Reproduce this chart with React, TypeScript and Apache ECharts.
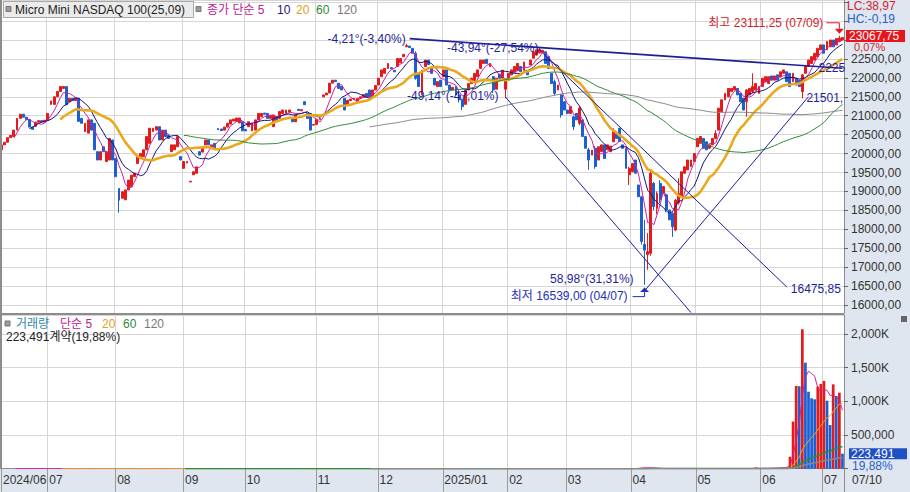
import React, { useEffect, useRef } from 'react';
import * as echarts from 'echarts';

// ---------- calendar (CME trading days) ----------
const startDate = '2024-06-07';
const endDate = '2025-07-10';
const holidays = ['2024-06-19', '2024-07-04', '2024-09-02', '2024-11-28', '2024-12-25', '2025-01-01', '2025-01-20', '2025-02-17', '2025-04-18', '2025-05-26', '2025-06-19', '2025-07-04'];

// ---------- daily candles: [open, close, low?, high?] (low/high omitted = no wick) ----------
const candles: number[][] = [
  // 2024-06
  [20100, 20230], [20230, 20300], [20300, 20420], [20420, 20480], [20450, 20620], [20620, 20930], [20930, 21040], [21040, 20960], [20960, 20900], [20900, 20700], [20700, 20640], [20720, 20830], [20830, 20870], [20870, 20830], [20830, 20880],
  // 2024-07
  [20880, 21060], [21300, 21390], [21300, 21500], [21500, 21640], [21640, 21770], [21720, 21770], [21770, 21290], [21370, 21460], [21460, 21400], [21400, 21470], [21460, 20850], [20930, 20800], [20580, 20800], [20540, 20890], [20890, 20620], [20800, 20100], [20050, 19830], [19830, 20050], [20180, 20050], [19790, 20050], [19830, 20400], [20360, 19830],
  // 2024-08
  [19870, 19390], [19080, 18770, 18440, 19080], [18820, 18990], [18780, 19040], [19040, 19300], [19130, 19430], [19390, 19480], [19740, 19920], [19880, 20000], [19920, 20100], [20100, 20450], [20270, 20670], [20580, 20670], [20620, 20710], [20710, 20360], [20360, 20620], [20620, 20450], [20490, 20400], [20050, 20230], [20100, 20230], [20180, 20450], [19920, 19830],
  // 2024-09
  [19610, 19790], [19750, 19790], [19250, 19270], [19440, 19520], [19480, 19650], [20050, 19960], [20040, 20140], [20230, 20360], [20360, 20230], [20140, 20230], [20270, 20140], [20660, 20630], [20650, 20610], [20620, 20700], [20700, 20800], [20780, 20890], [20860, 20910], [20850, 20940], [20810, 20940], [20840, 20600],
  // 2024-10
  [20640, 20600], [20710, 20840], [20600, 20800], [20620, 20890], [20890, 21060], [20980, 21060], [21070, 21040], [21060, 20930], [20930, 21000], [20710, 21020], [20980, 20840], [20930, 21110], [21060, 21150], [21070, 21150], [21100, 21150], [20930, 20840], [20840, 21020], [21170, 21140], [21130, 21160], [21370, 21290], [21060, 20930], [21060, 20620], [20750, 20770],
  // 2024-11
  [20770, 20900], [20900, 20930], [21500, 21550], [21550, 21600], [21600, 21860], [21860, 21940], [21940, 21900], [21860, 21720], [21770, 21680], [21460, 21150], [21280, 21410], [21400, 21440], [21420, 21460], [21370, 21460], [21460, 21500], [21500, 21560], [21590, 21500], [21680, 21500], [21500, 21680], [21680, 21800],
  // 2024-12
  [21810, 21990], [22030, 22210], [22120, 22250], [22250, 22380], [22270, 22240], [22200, 22160], [22300, 22510], [22400, 22510], [22560, 22620], [22820, 22850, 22820, 22900], [22840, 22800], [22780, 22650], [22650, 21990, 21950, 22700], [22120, 21770], [21550, 22200], [22300, 22470], [22470, 22350], [22250, 22120], [21990, 21810], [21770, 21900], [21940, 21770],
  // 2025-01
  [22030, 22210], [22210, 21810], [21810, 21680], [21680, 21750], [21770, 21550], [21550, 21420, 21350, 21600], [21420, 21240, 21150, 21450], [21300, 21680], [21680, 21850], [21850, 21990], [21930, 22120], [22030, 22210], [22250, 22470], [22380, 22470], [22490, 22380], [22300, 22380], [22030, 21680, 21600, 22050], [21700, 21990], [22100, 21990], [21990, 22200], [21700, 21940, 21460, 21980],
  // 2025-02
  [21940, 22120], [22080, 22210], [22150, 22300], [22200, 22380], [22300, 22160], [22200, 22420], [22200, 22080], [22340, 22470], [22520, 22690], [22600, 22740], [22660, 22750, 22640, 22790], [22680, 22730], [22690, 22380], [22560, 22250], [22120, 21850], [21900, 21590, 21550, 21950], [21680, 21810], [21550, 21020, 20950, 21580], [21370, 21150],
  // 2025-03
  [21150, 21060], [21060, 21240], [20970, 20710, 20620, 21000], [21060, 20890], [20800, 21200, 20750, 21250], [20890, 20450], [20450, 20140], [20100, 19830, 19570, 20150], [19960, 20090], [20140, 19660, 19600, 20200], [19830, 20180], [20050, 20230], [20230, 19870], [20100, 20230], [20050, 20200], [20315, 20580, 20300, 20670], [20540, 20400], [20670, 20320], [20230, 20140], [20140, 19610], [19440, 19610, 19170, 19650],
  // 2025-04
  [19520, 19740], [19830, 19480], [19170, 18860], [18860, 17680, 17600, 18880], [17600, 17450, 16539, 18250], [17330, 17410, 16930, 17900], [17366, 19480, 17300, 19530], [19215, 18600, 18500, 19250], [18550, 18950, 18400, 19000], [19210, 18780, 18700, 19300], [18950, 19130], [18910, 18510, 18450, 18950], [18510, 18250], [18420, 18070, 17800, 18450], [17980, 18770, 17950, 18800], [18700, 18950, 18650, 19350], [18860, 19520], [19480, 19650], [19570, 19830], [19660, 19830], [19790, 20000],
  // 2025-05
  [20180, 20400], [20270, 20450], [20400, 20140], [20310, 20100], [20140, 20230], [20230, 20400], [20400, 20530, 20380, 20620], [20620, 21200], [21110, 21420], [21420, 21590], [21500, 21720], [21640, 21720], [21680, 21770], [21720, 21550], [21590, 21370], [21460, 21150], [21370, 21680, 20970, 21700], [21550, 21720], [21640, 21770, 21600, 22120], [21680, 21850], [21590, 21770],
  // 2025-06
  [21770, 21990], [21900, 22030], [21850, 22030], [22050, 21940], [21940, 22050], [22080, 21940], [22030, 22160], [22120, 22210], [22160, 21900], [22120, 21770], [21900, 22120], [21990, 21810], [21940, 21770], [21640, 22080, 21460, 22100], [22120, 22300], [22300, 22470], [22380, 22560], [22470, 22650], [22560, 22780], [22740, 22870],
  // 2025-07
  [22870, 22650], [22740, 22960], [22820, 23000], [23000, 22820], [22870, 23040], [22960, 23052, 22940, 23111.25], [23000, 23067.75],
];

// ---------- volume (contracts); zero before the first listed day ----------
const volumeFrom = 204;
const volumeRecent = [
  0, 8000, 12000, 15000, 18000, 12000, 10000, 8000,
  0, 0, 0, 0, 0, 0, 0, 0, 0, 0, 0, 0, 0, 0, 0, 0, 0, 0, 0, 0, 0, 0, 0, 0, 0, 0, 0, 0, 0, 0, 0,
  12000, 18000, 0, 0, 6000, 9000, 12000, 10000, 12000, 15000, 18000, 26000,
  178000, 700000, 1228000, 1225000, 2070000, 1574000, 1143000, 1045000, 1030000, 1218000, 1260000,
  1302000, 1010000, 649000, 1253000, 1080000, 1129000, 223491,
];

const maPeriods = [5, 10, 20, 60, 120];
const volMaPeriods = [5, 20, 60, 120];

// trend lines in data space: [categoryIndex, price]
const trendFrom = [[132, 23036], [174, 22737], [163, 21495], [208, 16374]];
const trendTo = [[272, 22253], [254, 16475.85], [223, 15800], [261, 21501]];
const trendStartText = ['-4,21°(-3,40%)', '-43,94°(-27,54%)', '-49,14°(-47,01%)', '58,98°(31,31%)'];
const trendEndText = ['2225', '16475,85', '', '21501,'];

const highPoint = [271, 23111.25];
const highText = '최고 23111,25 (07/09)';
const lowPoint = [208, 16539];
const lowText = '최저 16539,00 (04/07)';
const lastPrice = 23067.75;
const lastPriceText = '23067,75';
const lastChangeText = '0,07%';
const lastVolume = 223491;
const lastVolumeText = '223,491';
const volShareText = '19,88%';
const volInfoText = '223,491계약(19,88%)';
const lcText = 'LC:38,97';
const hcText = 'HC:-0,19';
const titleText = 'Micro Mini NASDAQ 100(25,09)';
const lastDateText = '07/10';

// ---------- styling ----------
const FONT = '"Liberation Sans", "Noto Sans CJK KR", Arial, sans-serif';
const RED = '#e31b1b';
const BLUE = '#1b5fd1';
const GRIDC = '#d6d6d6';
const TREND = '#1e1e9b';
const MA_COLORS = ['#d21ea4', '#14147a', '#eaa91d', '#2d8c3a', '#8a8a8a'];
const MA_WIDTHS = [1, 1, 2.6, 1, 1];
const VMA_COLORS = ['#d21ea4', '#eaa91d', '#2d8c3a', '#8a8a8a'];
const VMA_WIDTHS = [1, 1, 1.5, 1.5];
const PRICE_MIN = 15789.2;
const PRICE_MAX = 24056.5;
const VOL_MAX = 2282450;

function buildDates(): string[] {
  const out: string[] = [];
  const hol = new Set(holidays);
  const d = new Date(startDate + 'T00:00:00Z');
  const end = new Date(endDate + 'T00:00:00Z');
  while (d <= end) {
    const day = d.getUTCDay();
    const s = d.toISOString().slice(0, 10);
    if (day !== 0 && day !== 6 && !hol.has(s)) out.push(s);
    d.setUTCDate(d.getUTCDate() + 1);
  }
  return out;
}

function sma(arr: number[], n: number): (number | string)[] {
  return arr.map((_, i) => {
    if (i < n - 1) return '-';
    let s = 0;
    for (let k = i - n + 1; k <= i; k++) s += arr[k];
    return +(s / n).toFixed(2);
  });
}

export default function App() {
  const ref = useRef<HTMLDivElement>(null);

  useEffect(() => {
    const el = ref.current;
    if (!el) return;
    const chart = echarts.init(el, undefined, { renderer: 'svg' });

    const dates = buildDates().slice(0, candles.length);
    const isMonthStart = (i: number) => i === 0 || (dates[i] && dates[i - 1] && dates[i].slice(0, 7) !== dates[i - 1].slice(0, 7));
    const ohlc = candles.map(([o, c, l, h]) => [o, c, l ?? Math.min(o, c), h ?? Math.max(o, c)]);
    const closes = candles.map((c) => c[1]);
    const volume = dates.map((_, i) => (i >= volumeFrom ? volumeRecent[i - volumeFrom] ?? 0 : 0));
    const volData = volume.map((v, i) => ({ value: v, itemStyle: { color: i > 0 && v > volume[i - 1] ? RED : BLUE } }));

    const option: any = {
      animation: false,
      backgroundColor: 'transparent',
      textStyle: { fontFamily: FONT },
      grid: [
        { left: 0, right: 66, top: 0, height: 313, show: true, backgroundColor: '#ffffff', borderWidth: 0 },
        { left: 0, right: 66, top: 315, height: 153.7, show: true, backgroundColor: '#ffffff', borderWidth: 0 },
      ],
      xAxis: [
        {
          type: 'category', gridIndex: 0, data: dates,
          axisLine: { show: false }, axisTick: { show: false }, axisLabel: { show: false },
          splitLine: { show: true, interval: (i: number) => isMonthStart(i), lineStyle: { color: GRIDC } },
        },
        {
          type: 'category', gridIndex: 1, data: dates,
          axisLine: { show: true, lineStyle: { color: '#8c8c8c' } },
          axisTick: { show: true, interval: (i: number) => isMonthStart(i), length: 23, lineStyle: { color: '#9a9a9a' } },
          axisLabel: {
            show: true, interval: (i: number) => isMonthStart(i), align: 'left', margin: 5, color: '#333', fontSize: 12, fontFamily: FONT,
            formatter: (v: string, i: number) => { const [y, m] = v.split('-'); return i === 0 || m === '01' ? `${y}/${m}` : m; },
          },
          splitLine: { show: true, interval: (i: number) => isMonthStart(i), lineStyle: { color: GRIDC } },
        },
      ],
      yAxis: [
        {
          type: 'value', gridIndex: 0, position: 'right', min: PRICE_MIN, max: PRICE_MAX, splitNumber: 16,
          axisLine: { show: true, lineStyle: { color: '#8c8c8c' } },
          axisTick: { show: true, length: 4, lineStyle: { color: '#666' } },
          axisLabel: {
            color: '#333', fontSize: 12, margin: 7, fontFamily: FONT, showMinLabel: false, showMaxLabel: false,
            formatter: (v: number) => (v > 22999 ? '' : v.toFixed(2).replace('.', ',')),
          },
          splitLine: { show: true, lineStyle: { color: GRIDC } },
        },
        {
          type: 'value', gridIndex: 1, position: 'right', min: 0, max: VOL_MAX, splitNumber: 5,
          axisLine: { show: true, lineStyle: { color: '#8c8c8c' } },
          axisTick: { show: true, length: 4, lineStyle: { color: '#666' } },
          axisLabel: {
            color: '#333', fontSize: 12, margin: 7, fontFamily: FONT, showMaxLabel: false,
            formatter: (v: number) => (v <= 0 || v > 2100000 ? '' : v >= 1000000 ? (v / 1000).toLocaleString('en-US') + 'K' : v.toLocaleString('en-US')),
          },
          splitLine: { show: true, lineStyle: { color: GRIDC } },
        },
      ],
      series: [
        {
          type: 'candlestick', name: 'price', xAxisIndex: 0, yAxisIndex: 0, data: ohlc, barWidth: '78%',
          itemStyle: { color: RED, color0: BLUE, borderColor: RED, borderColor0: BLUE, borderWidth: 1 },
          emphasis: { disabled: true },
          markLine: {
            silent: true, symbol: ['none', 'none'], label: { show: false }, emphasis: { disabled: true },
            lineStyle: { color: TREND, width: 1, type: 'solid' },
            data: trendFrom.map((f, k) => [
              { coord: f, lineStyle: { color: TREND, width: k === 0 ? 1.6 : 1, type: 'solid' } },
              { coord: trendTo[k] },
            ]),
          },
        },
        ...maPeriods.map((n, k) => ({
          type: 'line', name: 'MA' + n, xAxisIndex: 0, yAxisIndex: 0, data: sma(closes, n), showSymbol: false, symbol: 'none',
          lineStyle: { color: MA_COLORS[k], width: MA_WIDTHS[k] }, emphasis: { disabled: true }, silent: true,
        })),
        {
          type: 'bar', name: 'volume', xAxisIndex: 1, yAxisIndex: 1, data: volData, barWidth: '88%', emphasis: { disabled: true }, silent: true,
        },
        ...volMaPeriods.map((n, k) => ({
          type: 'line', name: 'VMA' + n, xAxisIndex: 1, yAxisIndex: 1, data: sma(volume, n), showSymbol: false, symbol: 'none',
          lineStyle: { color: VMA_COLORS[k], width: VMA_WIDTHS[k] }, emphasis: { disabled: true }, silent: true,
        })),
      ],
    };
    chart.setOption(option);

    const px = (g: number, pt: number[]) => chart.convertToPixel({ gridIndex: g } as any, pt) as number[];
    const txt = (x: number, y: number, text: string, fill: string, align = 'left', size = 12) => ({
      type: 'text', x, y, z: 100, silent: true,
      style: { text, fill, fontSize: size, fontFamily: FONT, align, verticalAlign: 'middle', textAlign: align, textVerticalAlign: 'middle' },
    });
    const rect = (x: number, y: number, w: number, h: number, fill: string, stroke?: string) => ({
      type: 'rect', z: 90, silent: true, shape: { x, y, width: w, height: h },
      style: { fill, stroke: stroke ?? 'none', lineWidth: stroke ? 1 : 0 },
    });

    const els: any[] = [];
    // frame
    els.push(rect(0, 0, 2, 469, '#8c8c8c'));
    els.push(rect(0, 313, 844, 2, '#8c8c8c'));
    els.push({ type: 'line', z: 90, silent: true, shape: { x1: 844.5, y1: 469, x2: 844.5, y2: 492 }, style: { stroke: '#8c8c8c', lineWidth: 1 } });
    // price legend
    els.push(rect(3.5, 1.5, 190, 16, '#ebebeb', '#a8a8a8'));
    els.push(rect(6, 6.5, 5, 5, '#9a9a9a', '#777'));
    els.push(txt(15, 10, titleText, '#222', 'left', 12));
    els.push(rect(196, 6.5, 5, 5, '#9a9a9a', '#777'));
    els.push(txt(207, 10, '종가 단순 5', '#c0208c', 'left', 12));
    els.push(txt(277, 10, '10', '#1a1a80', 'left', 12));
    els.push(txt(296, 10, '20', '#e0a020', 'left', 12));
    els.push(txt(316, 10, '60', '#2a8a3a', 'left', 12));
    els.push(txt(337, 10, '120', '#777', 'left', 12));
    // volume legend
    els.push(rect(5, 321, 5, 5, '#9a9a9a', '#777'));
    els.push(txt(16, 324, '거래량', '#2e8aa8', 'left', 12));
    els.push(txt(60, 324, '단순 5', '#c0208c', 'left', 12));
    els.push(txt(102, 324, '20', '#e0a020', 'left', 12));
    els.push(txt(123, 324, '60', '#2a8a3a', 'left', 12));
    els.push(txt(144, 324, '120', '#777', 'left', 12));
    els.push(txt(6, 337, volInfoText, '#222', 'left', 12));
    // right-top info
    els.push(txt(847, 6, lcText, '#d2232a', 'left', 12));
    els.push(txt(847, 19, hcText, '#2a5fc8', 'left', 12));
    els.push(rect(901, 316, 6, 6, '#666'));
    els.push(txt(852, 480, lastDateText, '#333', 'left', 12));

    // current price box
    const [, yP] = px(0, [272, lastPrice]);
    els.push(rect(846, yP - 7.5, 59, 12, '#e8141e'));
    els.push(txt(849, yP - 1.5, lastPriceText, '#ffffff', 'left', 12));
    els.push(txt(854, yP + 10, lastChangeText, '#d2232a', 'left', 11));
    // current volume box
    const [, yV] = px(1, [272, lastVolume]);
    els.push(rect(849, yV - 5.5, 58, 11, '#1f4fc4'));
    els.push(txt(851, yV, lastVolumeText, '#ffffff', 'left', 12));
    els.push(txt(852, yV + 12.5, volShareText, '#2a5fc8', 'left', 12));

    // high annotation
    const [hx, hy] = px(0, highPoint);
    els.push({ type: 'polygon', z: 100, silent: true, shape: { points: [[hx - 4.5, hy - 7], [hx + 4.5, hy - 7], [hx, hy - 2]] }, style: { fill: '#e8141e' } });
    els.push({ type: 'polyline', z: 100, silent: true, shape: { points: [[hx - 13, hy - 13], [hx, hy - 13], [hx, hy - 7]] }, style: { stroke: '#e8141e', lineWidth: 1, fill: 'none' } });
    els.push(txt(hx - 16, hy - 13, highText, '#d2232a', 'right', 12));
    // low annotation
    const [lx, ly] = px(0, lowPoint);
    els.push({ type: 'polygon', z: 100, silent: true, shape: { points: [[lx, ly + 3], [lx - 4.5, ly + 7.5], [lx + 4.5, ly + 7.5]] }, style: { fill: '#1e2fb8' } });
    els.push({ type: 'polyline', z: 100, silent: true, shape: { points: [[lx, ly + 7.5], [lx, ly + 12], [lx - 12, ly + 12]] }, style: { stroke: '#1e2fb8', lineWidth: 1, fill: 'none' } });
    els.push(txt(lx - 17, ly + 11, lowText, '#1e2fb8', 'right', 12));

    // trend line labels
    const startOff = [[-4, 0], [-1, -2], [-7, -1], [-11, -12]];
    const endOff = [[-24, 0], [4, 2], [0, 0], [-2, 1]];
    trendFrom.forEach((f, k) => {
      const [sx, sy] = px(0, f);
      els.push(txt(sx + startOff[k][0], sy + startOff[k][1], trendStartText[k], TREND, 'right', 12));
      if (trendEndText[k]) {
        const [ex, ey] = px(0, trendTo[k]);
        els.push(txt(ex + endOff[k][0], ey + endOff[k][1], trendEndText[k], TREND, 'left', 12));
      }
    });

    chart.setOption({ graphic: { elements: els } });
    return () => chart.dispose();
  }, []);

  return (
    <div
      ref={ref}
      style={{ position: 'fixed', left: 0, top: 0, width: 910, height: 492, background: '#dfe6ef' }}
    />
  );
}
